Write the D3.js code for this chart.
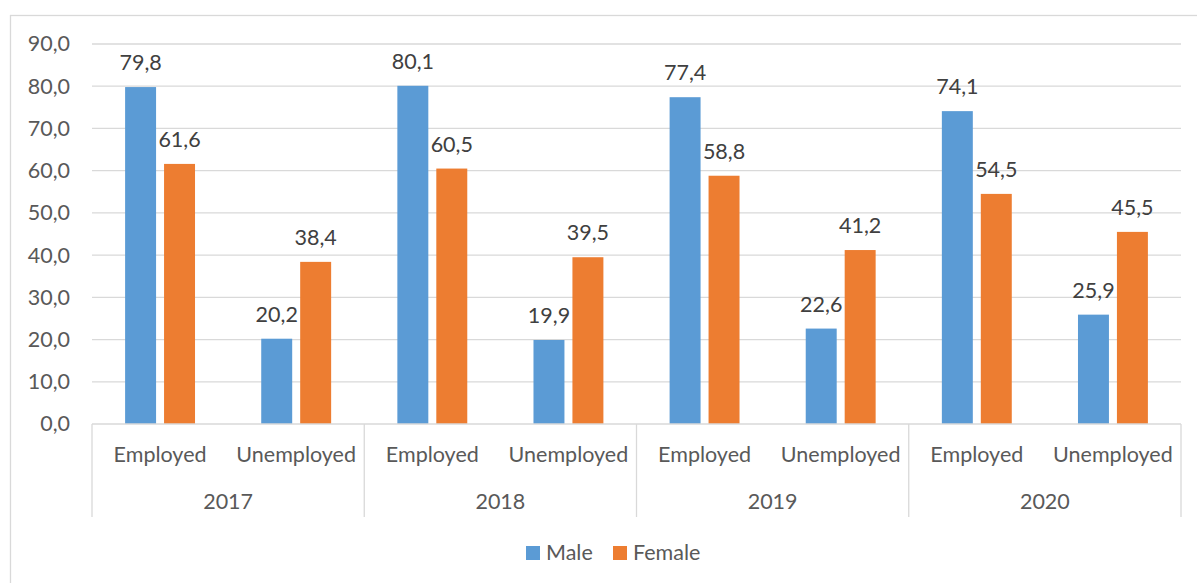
<!DOCTYPE html>
<html>
<head>
<meta charset="utf-8">
<script src="https://cdn.jsdelivr.net/npm/d3@7"></script>
<style>
  html, body { margin: 0; padding: 0; background: #fff; }
  svg { display: block; }
  text { font-family: Lato, "Open Sans", sans-serif; }
</style>
</head>
<body>
<svg id="chart" width="1197" height="583"></svg>
<script>
// Employment status shares by sex, 2017–2020
const years = ["2017", "2018", "2019", "2020"];
const statuses = ["Employed", "Unemployed"];
const seriesNames = ["Male", "Female"];
const maleValues = [79.8, 20.2, 80.1, 19.9, 77.4, 22.6, 74.1, 25.9];
const femaleValues = [61.6, 38.4, 60.5, 39.5, 58.8, 41.2, 54.5, 45.5];
const yTicks = [0, 10, 20, 30, 40, 50, 60, 70, 80, 90];

const colors = { Male: "#5B9BD5", Female: "#ED7D31" };
const seriesValues = { Male: maleValues, Female: femaleValues };

const svg = d3.select("#chart");
const plot = { left: 92, right: 1181, top: 44, bottom: 424 };
const axisBottom = 517;
const fontSize = 21.5;

// comma as decimal separator
const locale = d3.formatLocale({ decimal: ",", thousands: ".", grouping: [3], currency: ["", ""] });
const fmt = locale.format(".1f");

// outer frame
svg.append("rect")
  .attr("x", 10.5).attr("y", 15.5)
  .attr("width", 1200).attr("height", 600)
  .attr("fill", "none").attr("stroke", "#d9d9d9").attr("stroke-width", 1.3);

const y = d3.scaleLinear().domain([0, 90]).range([plot.bottom, plot.top]);
const xYear = d3.scaleBand().domain(years).range([plot.left, plot.right]);
const xStatus = d3.scaleBand().domain(statuses).range([0, xYear.bandwidth()]);
const xSeries = d3.scaleBand().domain(seriesNames)
  .range([0, xStatus.bandwidth()]).paddingInner(0.205).paddingOuter(0.85);

// gridlines
svg.append("g").selectAll("line").data(yTicks.filter(d => d > 0)).join("line")
  .attr("x1", plot.left).attr("x2", plot.right)
  .attr("y1", d => y(d)).attr("y2", d => y(d))
  .attr("stroke", "#d9d9d9").attr("stroke-width", 1.3);

// value axis
const yAxis = svg.append("g")
  .attr("transform", `translate(${plot.left},0)`)
  .call(d3.axisLeft(y).tickValues(yTicks).tickFormat(fmt).tickSize(0).tickPadding(22));
yAxis.select(".domain").remove();
yAxis.selectAll("text")
  .attr("font-size", fontSize).attr("fill", "#595959")
  .attr("font-family", "Lato, 'Open Sans', sans-serif");

// flattened records
const records = [];
years.forEach((yr, i) => statuses.forEach((st, j) => seriesNames.forEach(s => {
  records.push({ year: yr, status: st, series: s, value: seriesValues[s][i * 2 + j] });
})));
const barX = d => xYear(d.year) + xStatus(d.status) + xSeries(d.series);

svg.append("g").selectAll("rect").data(records).join("rect")
  .attr("x", barX)
  .attr("y", d => y(d.value))
  .attr("width", xSeries.bandwidth())
  .attr("height", d => y(0) - y(d.value))
  .attr("fill", d => colors[d.series]);

svg.append("g").selectAll("text").data(records).join("text")
  .attr("x", d => barX(d) + xSeries.bandwidth() / 2)
  .attr("y", d => y(d.value) - 17)
  .attr("text-anchor", "middle")
  .attr("font-size", fontSize).attr("fill", "#404040")
  .text(d => fmt(d.value));

// category axis: baseline and group separators
const cat = svg.append("g").attr("stroke", "#d9d9d9").attr("stroke-width", 1.3);
cat.append("line").attr("x1", plot.left).attr("x2", plot.right)
  .attr("y1", plot.bottom).attr("y2", plot.bottom);
const seps = years.map(yr => xYear(yr)).concat([plot.right]);
cat.selectAll("line.sep").data(seps).join("line").attr("class", "sep")
  .attr("x1", d => d).attr("x2", d => d)
  .attr("y1", plot.bottom).attr("y2", axisBottom);

const inner = [];
years.forEach(yr => statuses.forEach(st => inner.push({ year: yr, status: st })));
svg.append("g").selectAll("text").data(inner).join("text")
  .attr("x", d => xYear(d.year) + xStatus(d.status) + xStatus.bandwidth() / 2)
  .attr("y", 462)
  .attr("text-anchor", "middle")
  .attr("font-size", fontSize).attr("fill", "#595959")
  .text(d => d.status);

svg.append("g").selectAll("text").data(years).join("text")
  .attr("x", d => xYear(d) + xYear.bandwidth() / 2)
  .attr("y", 509)
  .attr("text-anchor", "middle")
  .attr("font-size", fontSize).attr("fill", "#595959")
  .text(d => d);

// legend
const legend = svg.append("g");
const legendItems = [{ name: "Male", x: 526 }, { name: "Female", x: 613 }];
legendItems.forEach(it => {
  legend.append("rect").attr("x", it.x).attr("y", 546).attr("width", 14).attr("height", 14)
    .attr("fill", colors[it.name]);
  legend.append("text").attr("x", it.x + 20).attr("y", 560)
    .attr("font-size", fontSize).attr("fill", "#595959").text(it.name);
});
</script>
</body>
</html>
